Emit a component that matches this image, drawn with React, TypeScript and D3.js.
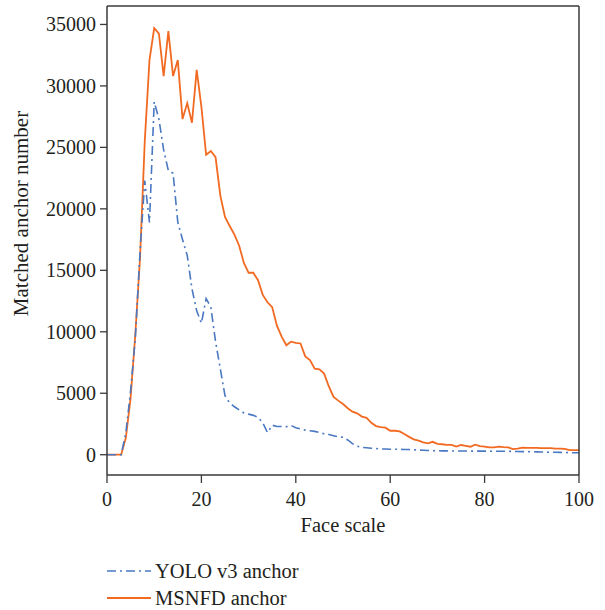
import React from 'react';
import * as d3 from 'd3';

// face scale 0..100, one value per unit
const faceScale = d3.range(0, 101);

const yoloAnchor = [
  0, 0, 0, 0, 1800, 5200, 9500, 16500, 22300, 18900,
  28700, 27300, 24800, 23100, 22900, 18900, 17500, 16200, 13500, 11700,
  10700, 12700, 12000, 9200, 7000, 4800, 4200, 3900, 3650, 3400,
  3300, 3200, 3050, 2600, 1800, 2400, 2300, 2300, 2280, 2380,
  2200, 2100, 2000, 1950, 1900, 1800, 1700, 1650, 1550, 1450,
  1420, 1200, 900, 700, 600, 570, 530, 500, 470, 460,
  450, 450, 440, 430, 420, 400, 380, 360, 340, 330,
  320, 310, 310, 300, 300, 300, 300, 290, 290, 290,
  290, 290, 280, 280, 280, 280, 270, 260, 250, 250,
  240, 230, 220, 210, 200, 200, 190, 180, 170, 160,
  160,
];

const msnfdAnchor = [
  0, 0, 0, 0, 1400, 4600, 9800, 16000, 25500, 32100,
  34700, 34250, 30800, 34450, 30800, 32100, 27300, 28600, 27000, 31300,
  28300, 24400, 24700, 24200, 21100, 19350, 18600, 17900, 17000, 15600,
  14800, 14800, 14200, 13000, 12400, 12000, 10500, 9600, 8900, 9200,
  9100, 9050, 8000, 7700, 7000, 6950, 6600, 5550, 4700, 4400,
  4120, 3780, 3500, 3370, 3100, 3000, 2600, 2330, 2250, 2200,
  1950, 1950, 1900, 1680, 1450, 1250, 1150, 1000, 930, 1050,
  880, 850, 800, 800, 660, 790, 720, 650, 810, 700,
  650, 600, 600, 650, 620, 600, 460, 500, 570, 560,
  550, 550, 540, 540, 530, 500, 490, 470, 380, 380,
  380,
];

const xTicks = [0, 20, 40, 60, 80, 100];
const yTicks = [0, 5000, 10000, 15000, 20000, 25000, 30000, 35000];

const seriesNames = ['YOLO v3 anchor', 'MSNFD anchor'];

const BLUE = '#4a78c2';
const ORANGE = '#f26a21';
const AXIS = '#3a3a3a';
const INK = '#231f20';
const FONT = '"Liberation Serif", "DejaVu Serif", serif';

const App = () => {
  const x = d3.scaleLinear().domain([0, 100]).range([107, 579]);
  const y = d3.scaleLinear().domain([-1650, 36500]).range([475, 6]);

  const line = d3
    .line<number>()
    .x((_, i) => x(faceScale[i]))
    .y((d) => y(d));

  const [x0, x1] = x.range();
  const [yb, yt] = y.range();

  return (
    <svg width={605} height={610} style={{ position: 'absolute', left: 0, top: 0 }}>
      <rect width={605} height={610} fill='#fff' />

      <path d={line(msnfdAnchor) || ''} fill='none' stroke={ORANGE} strokeWidth={1.8} />
      <path
        d={line(yoloAnchor) || ''}
        fill='none'
        stroke={BLUE}
        strokeWidth={1.6}
        strokeDasharray='9,4,2,4'
      />

      {/* frame */}
      <line x1={x0} x2={x1} y1={yt} y2={yt} stroke={AXIS} strokeWidth={1.5} />
      <line x1={x1} x2={x1} y1={yt} y2={yb} stroke={AXIS} strokeWidth={1.5} />
      <line x1={x0} x2={x1} y1={yb} y2={yb} stroke={AXIS} strokeWidth={1.5} />
      <line x1={x0} x2={x0} y1={yt} y2={yb} stroke={AXIS} strokeWidth={1.5} />

      {yTicks.map((t) => (
        <g key={t}>
          <line x1={x0 - 7} x2={x0} y1={y(t)} y2={y(t)} stroke={AXIS} strokeWidth={1.3} />
          <text
            x={x0 - 11}
            y={y(t)}
            dy='0.35em'
            textAnchor='end'
            fontFamily={FONT}
            fontSize={20}
            fill={INK}
          >
            {t}
          </text>
        </g>
      ))}

      {xTicks.map((t) => (
        <g key={t}>
          <line x1={x(t)} x2={x(t)} y1={yb} y2={yb + 8} stroke={AXIS} strokeWidth={1.3} />
          <text
            x={x(t)}
            y={yb + 31}
            textAnchor='middle'
            fontFamily={FONT}
            fontSize={20}
            fill={INK}
          >
            {t}
          </text>
        </g>
      ))}

      <text
        x={(x0 + x1) / 2}
        y={532}
        textAnchor='middle'
        fontFamily={FONT}
        fontSize={20.5}
        fill={INK}
      >
        Face scale
      </text>
      <text
        transform={`translate(28, ${(yt + yb) / 2 - 27}) rotate(-90)`}
        textAnchor='middle'
        fontFamily={FONT}
        fontSize={21}
        fill={INK}
      >
        Matched anchor number
      </text>

      {/* legend */}
      {seriesNames.map((name, i) => (
        <g key={name} transform={`translate(107, ${571 + i * 27})`}>
          <line
            x1={0}
            x2={44}
            y1={0}
            y2={0}
            stroke={i === 0 ? BLUE : ORANGE}
            strokeWidth={i === 0 ? 1.6 : 1.8}
            strokeDasharray={i === 0 ? '9,4,2,4' : undefined}
          />
          <text x={48} y={0} dy='0.35em' fontFamily={FONT} fontSize={20.5} fill={INK}>
            {name}
          </text>
        </g>
      ))}
    </svg>
  );
};

export default App;
